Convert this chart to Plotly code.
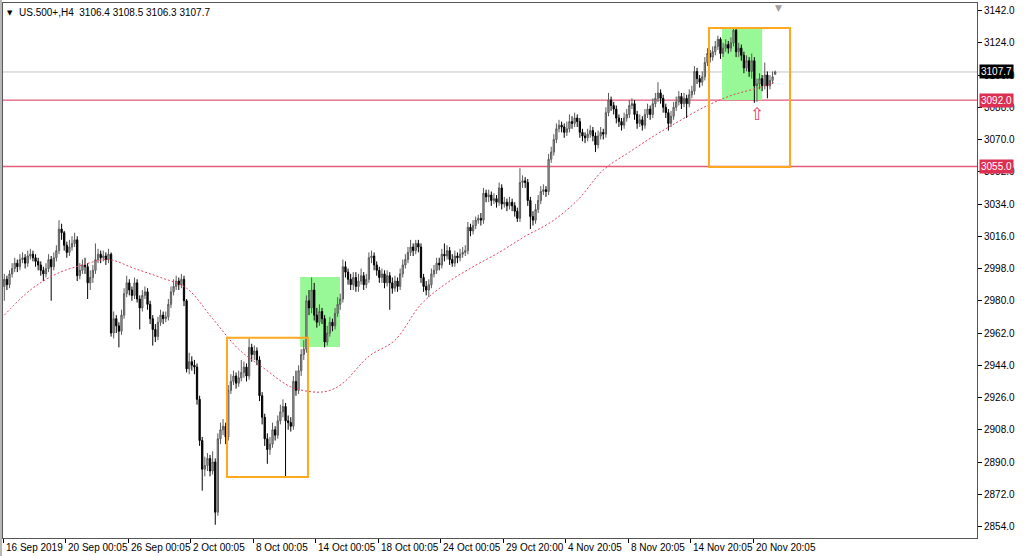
import plotly.graph_objects as go

# ---- data (H4 bars) ----
opens = [2988,2992,2989,2995,2998,3001,2999,3003,3004,3001,
 3005,3006,3004,3002,3000,2997,2995,2998,3003,2999,
 3004,3008,3020,3018,3011,3007,3010,3012,3014,2994,
 2997,3000,2999,2990,2993,2997,3003,3006,3004,3005,
 3003,3006,2962,2970,2966,2963,2972,2984,2990,2986,
 2983,2990,2981,2976,2983,2985,2978,2970,2964,2960,
 2968,2972,2970,2971,2978,2985,2988,2991,2989,2992,
 2980,2942,2946,2944,2943,2925,2902,2886,2888,2892,
 2885,2890,2862,2903,2908,2910,2904,2930,2935,2938,
 2934,2937,2940,2943,2938,2954,2950,2952,2947,2927,
 2915,2903,2897,2900,2908,2905,2913,2918,2921,2913,
 2912,2910,2935,2930,2941,2950,2953,2980,2976,2986,
 2972,2968,2974,2970,2957,2962,2968,2966,2973,2978,
 2981,2999,2996,2992,2989,2993,2988,2991,2994,2989,
 2992,3004,3005,3000,2997,2993,2995,2990,2994,2990,
 2987,2991,2988,2995,3000,3003,3007,3010,3008,3012,
 3010,2993,2988,2986,2989,2995,2997,3001,3000,3006,
 3005,3008,3003,3001,3005,3004,3006,3007,3008,3021,
 3019,3022,3025,3026,3025,3040,3038,3039,3036,3037,
 3035,3043,3034,3035,3033,3035,3033,3030,3026,3046,
 3047,3046,3036,3027,3025,3031,3036,3041,3042,3041,
 3059,3063,3070,3076,3078,3077,3074,3076,3080,3079,
 3082,3080,3074,3072,3071,3073,3075,3072,3067,3072,
 3074,3073,3085,3092,3089,3087,3082,3080,3078,3082,
 3084,3089,3090,3084,3079,3081,3078,3084,3087,3084,
 3090,3093,3096,3093,3088,3085,3079,3083,3088,3091,
 3094,3090,3093,3090,3095,3097,3108,3104,3102,3105,
 3113,3118,3116,3119,3122,3126,3118,3121,3123,3121,
 3124,3131,3119,3121,3117,3110,3114,3108,3114,3100,
 3101,3104,3100,3106,3100,3103,3106.4]
closes = [2992,2989,2995,2998,3001,2999,3003,3004,3001,3005,
 3006,3004,3002,3000,2997,2995,2998,3003,2999,3004,
 3008,3020,3018,3011,3007,3010,3012,3014,2994,2997,
 3000,2999,2990,2993,2997,3003,3006,3004,3005,3003,
 3006,2962,2970,2966,2963,2972,2984,2990,2986,2983,
 2990,2981,2976,2983,2985,2978,2970,2964,2960,2968,
 2972,2970,2971,2978,2985,2988,2991,2989,2992,2980,
 2942,2946,2944,2943,2925,2902,2886,2888,2892,2885,
 2890,2862,2903,2908,2910,2904,2930,2935,2938,2934,
 2937,2940,2943,2938,2954,2950,2952,2947,2927,2915,
 2903,2897,2900,2908,2905,2913,2918,2921,2913,2912,
 2910,2935,2930,2941,2950,2953,2980,2976,2986,2972,
 2968,2974,2970,2957,2962,2968,2966,2973,2978,2981,
 2999,2996,2992,2989,2993,2988,2991,2994,2989,2992,
 3004,3005,3000,2997,2993,2995,2990,2994,2990,2987,
 2991,2988,2995,3000,3003,3007,3010,3008,3012,3010,
 2993,2988,2986,2989,2995,2997,3001,3000,3006,3005,
 3008,3003,3001,3005,3004,3006,3007,3008,3021,3019,
 3022,3025,3026,3025,3040,3038,3039,3036,3037,3035,
 3043,3034,3035,3033,3035,3033,3030,3026,3046,3047,
 3046,3036,3027,3025,3031,3036,3041,3042,3041,3059,
 3063,3070,3076,3078,3077,3074,3076,3080,3079,3082,
 3080,3074,3072,3071,3073,3075,3072,3067,3072,3074,
 3073,3085,3092,3089,3087,3082,3080,3078,3082,3084,
 3089,3090,3084,3079,3081,3078,3084,3087,3084,3090,
 3093,3096,3093,3088,3085,3079,3083,3088,3091,3094,
 3090,3093,3090,3095,3097,3108,3104,3102,3105,3113,
 3118,3116,3119,3122,3126,3118,3121,3123,3121,3124,
 3131,3119,3121,3117,3110,3114,3108,3114,3100,3101,
 3104,3100,3106,3100,3103,3105,3107.7]
highs = [2995,2994,2997,3001,3004,3003,3006,3007,3006,3008,
 3009,3008,3006,3004,3002,2999,3001,3006,3005,3007,
 3011,3025,3023,3019,3013,3014,3016,3018,3016,3001,
 3003,3004,3001,2997,3000,3012,3009,3008,3008,3007,
 3009,3007,2974,2972,2968,2975,2987,2994,2992,2988,
 2993,2992,2983,2986,2988,2987,2980,2972,2967,2971,
 2975,2974,2974,2981,2988,2992,2994,2993,2995,2994,
 2981,2951,2949,2947,2945,2927,2904,2893,2895,2894,
 2896,2892,2906,2912,2914,2912,2933,2939,2941,2940,
 2941,2947,2946,2945,2959,2956,2955,2954,2949,2929,
 2917,2906,2904,2912,2910,2916,2922,2925,2923,2916,
 2915,2938,2941,2944,2953,2958,2983,2986,2993,2990,
 2976,2978,2976,2972,2966,2971,2970,2976,2982,2984,
 3003,3002,2998,2995,2996,2996,2995,2998,2996,2995,
 3007,3008,3007,3002,2999,2998,2997,2997,2996,2993,
 2994,2993,2998,3003,3006,3010,3014,3012,3014,3014,
 3012,2995,2991,2992,2998,3000,3004,3004,3009,3012,
 3011,3010,3006,3008,3007,3009,3010,3011,3024,3023,
 3025,3027,3028,3029,3043,3042,3042,3041,3040,3039,
 3046,3045,3038,3037,3038,3037,3035,3032,3054,3050,
 3049,3048,3038,3030,3034,3039,3044,3045,3044,3062,
 3066,3073,3079,3081,3080,3079,3080,3084,3083,3085,
 3084,3082,3076,3074,3076,3078,3077,3074,3075,3077,
 3076,3088,3096,3094,3091,3089,3084,3082,3085,3087,
 3092,3093,3092,3086,3084,3083,3087,3090,3089,3093,
 3096,3102,3098,3095,3090,3087,3086,3091,3094,3097,
 3096,3096,3095,3098,3100,3111,3110,3106,3108,3116,
 3121,3120,3122,3125,3128,3127,3124,3126,3125,3127,
 3132.5,3132,3124,3123,3119,3117,3116,3118,3116,3104,
 3107,3106,3113,3108,3106,3108,3108.5]
lows = [2980,2986,2987,2993,2996,2996,2997,3001,2998,2999,
 3003,3002,2999,2997,2994,2991,2993,2996,2980,2997,
 3002,3006,3014,3008,3004,3005,3008,3010,2991,2992,
 2995,2995,2981,2986,2990,2995,3001,3001,3002,3000,
 3001,2960,2959,2962,2954,2961,2970,2982,2983,2980,
 2981,2979,2964,2974,2981,2975,2967,2955,2957,2958,
 2966,2967,2968,2969,2976,2983,2986,2986,2987,2977,
 2940,2939,2941,2939,2922,2899,2874,2882,2885,2882,
 2883,2855,2860,2900,2905,2900,2902,2928,2933,2931,
 2932,2935,2937,2935,2936,2946,2947,2944,2924,2911,
 2899,2889,2894,2898,2902,2903,2911,2915,2882,2908,
 2907,2908,2927,2928,2938,2947,2951,2972,2973,2969,
 2965,2966,2967,2954,2955,2960,2963,2964,2971,2975,
 2979,2993,2989,2986,2986,2985,2985,2989,2986,2987,
 2990,3001,2997,2994,2990,2990,2987,2988,2975,2984,
 2985,2985,2986,2993,2998,3001,3005,3005,3006,3007,
 2990,2985,2983,2982,2987,2993,2995,2997,2998,3002,
 3003,3000,2999,2999,3001,3002,3004,3005,3006,3016,
 3017,3020,3023,3022,3023,3035,3035,3033,3034,3032,
 3033,3031,3032,3030,3031,3030,3027,3024,3024,3043,
 3043,3033,3020,3022,3023,3029,3034,3039,3038,3039,
 3057,3061,3068,3074,3074,3071,3072,3074,3076,3077,
 3077,3071,3069,3068,3069,3071,3069,3063,3065,3070,
 3070,3071,3083,3086,3084,3079,3077,3075,3076,3080,
 3082,3087,3081,3076,3077,3075,3076,3082,3081,3082,
 3088,3091,3090,3085,3082,3075,3077,3081,3086,3089,
 3087,3088,3082,3088,3093,3095,3101,3099,3100,3103,
 3111,3113,3114,3117,3120,3115,3116,3119,3118,3119,
 3122,3116,3116,3114,3107,3108,3105,3104,3090.5,3091,
 3098,3097,3098,3093,3098,3101,3106.3]

ma_bars = [0,10,20,30,40,50,60,70,80,90,100,110,120,125,130,140,150,160,170,180,
           190,200,210,220,230,240,250,260,270,280,290,296]
ma_vals = [2972,2986,2995,3000,3003,2998,2993,2987,2970,2953,2942,2932,2929,2930,2934,2949,
           2958,2978,2990,2999,3007,3016,3024,3036,3053,3063,3072.5,3081,3089,3095,3099,3102]

tick_bars = [0,24,48,72,96,120,144,168,192,216,240,264,288]
tick_labels = ["16 Sep 2019","20 Sep 00:05","26 Sep 00:05","2 Oct 00:05","8 Oct 00:05",
               "14 Oct 00:05","18 Oct 00:05","24 Oct 00:05","29 Oct 20:00","4 Nov 20:05",
               "8 Nov 20:05","14 Nov 20:05","20 Nov 20:05"]
price_ticks = [2854 + 18*k for k in range(17)]

bid = 3107.7
level_hi = 3092.0
level_lo = 3055.0

x = list(range(len(closes)))
FONT = "Liberation Sans"

fig = go.Figure()
fig.add_trace(go.Candlestick(
    x=x, open=opens, high=highs, low=lows, close=closes,
    increasing=dict(line=dict(color="#5a5a5a", width=1), fillcolor="#b0b0b0"),
    decreasing=dict(line=dict(color="#000000", width=1), fillcolor="#000000"),
    whiskerwidth=0, hoverinfo="skip", showlegend=False))
fig.add_trace(go.Scatter(
    x=ma_bars, y=ma_vals, mode="lines", line=dict(color="#e4405f", width=1, dash="2px,2px", shape="spline"),
    hoverinfo="skip", showlegend=False))

shapes = []
# green background rectangles
shapes.append(dict(type="rect", xref="x", yref="y", x0=113.6, x1=128.9, y0=2954.2, y1=2993.3,
                   fillcolor="#98f898", line=dict(width=0), layer="below"))
shapes.append(dict(type="rect", xref="x", yref="y", x0=275.6, x1=291.0, y0=3092.0, y1=3132.2,
                   fillcolor="#98f898", line=dict(width=0), layer="below"))
# horizontal lines
shapes.append(dict(type="line", xref="paper", yref="y", x0=0, x1=1, y0=bid, y1=bid,
                   line=dict(color="#c4c4c4", width=1), layer="below"))
shapes.append(dict(type="line", xref="paper", yref="y", x0=0, x1=1, y0=level_hi, y1=level_hi,
                   line=dict(color="#dc2f52", width=1), layer="below"))
shapes.append(dict(type="line", xref="paper", yref="y", x0=0, x1=1, y0=level_lo, y1=level_lo,
                   line=dict(color="#e45c7a", width=1.5), layer="below"))
# orange boxes
shapes.append(dict(type="rect", xref="x", yref="y", x0=85.5, x1=116.6, y0=2881.7, y1=2959.3,
                   line=dict(color="#ffa820", width=2), layer="above"))
shapes.append(dict(type="rect", xref="x", yref="y", x0=270.6, x1=301.7, y0=3054.6, y1=3132.2,
                   line=dict(color="#ffa820", width=2), layer="above"))
# window frame strip on the left
shapes.append(dict(type="rect", xref="paper", yref="paper", x0=-0.0031, x1=-0.001, y0=-0.034, y1=1.006,
                   fillcolor="#b8b8b8", line=dict(width=0), layer="above"))

ann = []
for b, t in zip(tick_bars, tick_labels):
    ann.append(dict(x=b - 0.2, y=0, xref="x", yref="paper", text=t, showarrow=False,
                    xanchor="left", yanchor="top", yshift=-2,
                    font=dict(family=FONT, size=10, color="#000000")))
for val, bg in [(bid, "#000000"), (level_hi, "#dc2f52"), (level_lo, "#dc2f52")]:
    ann.append(dict(x=1, y=val, xref="paper", yref="y", text=f"{val:.1f}", showarrow=False,
                    xanchor="left", yanchor="middle", xshift=2, bgcolor=bg, borderpad=1,
                    font=dict(family=FONT, size=10, color="#ffffff")))
# header
ann.append(dict(x=0, y=1, xref="paper", yref="paper", text="▼", showarrow=False,
                xanchor="left", yanchor="top", xshift=2, yshift=-4,
                font=dict(family="DejaVu Sans", size=7, color="#000000")))
ann.append(dict(x=0, y=1, xref="paper", yref="paper",
                text="US.500+,H4  3106.4 3108.5 3106.3 3107.7", showarrow=False,
                xanchor="left", yanchor="top", xshift=14, yshift=-2,
                font=dict(family=FONT, size=10, color="#000000")))
# shift marker at top
ann.append(dict(x=297.1, y=1, xref="x", yref="paper", text="▼", showarrow=False,
                xanchor="center", yanchor="top", yshift=2,
                font=dict(family="DejaVu Sans", size=9, color="#a0a0a0")))
# red up-arrow mark
ann.append(dict(x=288.9, y=3084.5, xref="x", yref="y", text="⇧", showarrow=False,
                xanchor="center", yanchor="middle",
                font=dict(family="DejaVu Sans", size=17, color="#e4405f")))

fig.update_layout(
    width=1024, height=556,
    margin=dict(l=3, r=47, t=3, b=18, autoexpand=False),
    paper_bgcolor="#ffffff", plot_bgcolor="#ffffff",
    shapes=shapes, annotations=ann, showlegend=False, hovermode=False,
    xaxis=dict(range=[-0.5, 373.5], showgrid=False, zeroline=False, rangeslider=dict(visible=False),
               tickvals=[b - 0.5 for b in tick_bars], ticktext=[""] * len(tick_bars),
               ticks="outside", ticklen=4, tickcolor="#000000", automargin=False,
               showline=True, linecolor="#555555", linewidth=1, mirror=True, fixedrange=True),
    yaxis=dict(range=[2847.6, 3146.2], side="right", showgrid=False, zeroline=False,
               tickvals=price_ticks, ticktext=[f"{v:.1f}" for v in price_ticks],
               ticks="outside", ticklen=4, tickcolor="#000000", automargin=False,
               tickfont=dict(family=FONT, size=10, color="#000000"),
               showline=True, linecolor="#555555", linewidth=1, mirror=True, fixedrange=True),
)

fig.write_html("out.html", config={"displayModeBar": False},
               post_script="document.body.style.margin='0';document.body.style.overflow='hidden';")
